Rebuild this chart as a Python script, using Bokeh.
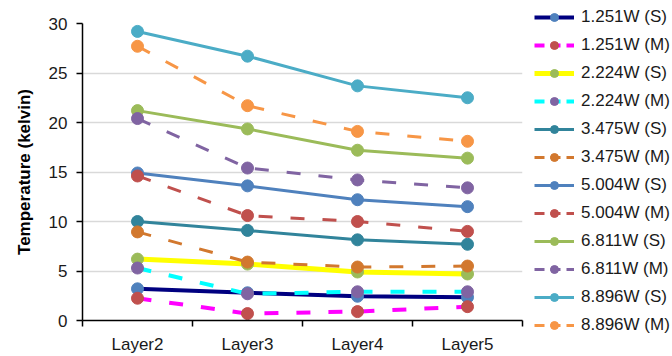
from bokeh.plotting import figure
from bokeh.layouts import row
from bokeh.models import Legend, LegendItem, FixedTicker, Range1d
from bokeh.embed import file_html
from bokeh.resources import INLINE

# Categories along the x axis
layers = ["Layer2", "Layer3", "Layer4", "Layer5"]

# Temperature rise (kelvin) per layer for each input power, (S) and (M) cases
t_1251_s = [3.2, 2.8, 2.45, 2.35]
t_1251_m = [2.25, 0.7, 0.9, 1.4]
t_2224_s = [6.2, 5.7, 4.9, 4.7]
t_2224_m = [5.3, 2.7, 2.9, 2.9]
t_3475_s = [10.0, 9.1, 8.15, 7.7]
t_3475_m = [8.95, 5.9, 5.4, 5.5]
t_5004_s = [14.9, 13.6, 12.2, 11.5]
t_5004_m = [14.6, 10.6, 10.0, 9.0]
t_6811_s = [21.2, 19.35, 17.2, 16.4]
t_6811_m = [20.4, 15.4, 14.2, 13.4]
t_8896_s = [29.2, 26.7, 23.7, 22.5]
t_8896_m = [27.7, 21.7, 19.1, 18.1]

y_ticks = [0, 5, 10, 15, 20, 25, 30]

FONT = "Liberation Sans"

# name, values, line colour, marker colour, dashed?, line width
series = [
    ("1.251W (S)", t_1251_s, "#000080", "#4F81BD", False, 4),
    ("1.251W (M)", t_1251_m, "#FF00FF", "#C0504D", True, 4),
    ("2.224W (S)", t_2224_s, "#FFFF00", "#9BBB59", False, 5),
    ("2.224W (M)", t_2224_m, "#00FFFF", "#8064A2", True, 4),
    ("3.475W (S)", t_3475_s, "#31849B", "#31849B", False, 3),
    ("3.475W (M)", t_3475_m, "#D2782E", "#D2782E", True, 3),
    ("5.004W (S)", t_5004_s, "#4F81BD", "#4F81BD", False, 3),
    ("5.004W (M)", t_5004_m, "#C0504D", "#C0504D", True, 3),
    ("6.811W (S)", t_6811_s, "#9BBB59", "#9BBB59", False, 3),
    ("6.811W (M)", t_6811_m, "#8064A2", "#8064A2", True, 3),
    ("8.896W (S)", t_8896_s, "#4BACC6", "#4BACC6", False, 3),
    ("8.896W (M)", t_8896_m, "#F79646", "#F79646", True, 3),
]

DASH = "14 18"

# layer i sits in the middle of the unit slot [i, i+1]
xs = [i + 0.5 for i in range(len(layers))]

p = figure(width=527, height=356, output_backend="svg", toolbar_location=None,
           x_range=Range1d(0, len(layers)), y_range=Range1d(0, 30),
           title_location=None, frame_align=False,
           min_border_left=82, min_border_right=5,
           min_border_top=23, min_border_bottom=34)
p.outline_line_color = None
p.background_fill_color = "white"
p.border_fill_color = "white"

p.xgrid.grid_line_color = None
p.ygrid.grid_line_color = "#D9D9D9"
p.ygrid.grid_line_width = 1.5

# x axis: labels at slot centres, tick marks at slot boundaries
p.xaxis.ticker = FixedTicker(ticks=xs, minor_ticks=list(range(len(layers) + 1)))
p.xaxis.major_label_overrides = {x: name for x, name in zip(xs, layers)}
p.xaxis.major_tick_line_color = None
p.xaxis.minor_tick_line_color = "black"
p.xaxis.minor_tick_line_width = 1.5
p.xaxis.minor_tick_out = 6
p.xaxis.minor_tick_in = 0
p.xaxis.major_label_standoff = 8

p.yaxis.ticker = FixedTicker(ticks=y_ticks)
p.yaxis.minor_tick_line_color = None
p.yaxis.major_tick_line_width = 1.5
p.yaxis.major_tick_out = 6
p.yaxis.major_tick_in = 0
p.yaxis.major_label_standoff = 9
p.yaxis.axis_label = "Temperature (kelvin)"
p.yaxis.axis_label_text_font_style = "bold"
p.yaxis.axis_label_text_font_size = "17px"
p.yaxis.axis_label_text_font = FONT
p.yaxis.axis_label_text_color = "black"
p.yaxis.axis_label_standoff = 12

for ax in (p.xaxis, p.yaxis):
    ax.axis_line_color = "black"
    ax.axis_line_width = 1.5
    ax.major_label_text_font = FONT
    ax.major_label_text_font_size = "17px"
    ax.major_label_text_color = "#1a1a1a"

for name, vals, lc, mc, dashed, lw in series:
    p.line(xs, vals, line_color=lc, line_width=lw,
           line_dash=DASH if dashed else "solid")
    p.scatter(xs, vals, size=12, fill_color=mc, line_color=mc)

# Legend panel to the right of the plot area. Its key renderers carry the
# same series styles; the panel's own ranges keep their data out of view.
lg = figure(width=145, height=356, output_backend="svg", toolbar_location=None,
            x_range=Range1d(-2, -1), y_range=Range1d(-2, -1),
            title_location=None, x_axis_location=None, y_axis_location=None,
            frame_align=False,
            min_border_left=0, min_border_right=0,
            min_border_top=0, min_border_bottom=0)
lg.grid.visible = False
lg.outline_line_color = None
lg.background_fill_color = "white"
lg.border_fill_color = "white"

items = []
for name, vals, lc, mc, dashed, lw in series:
    k_line = lg.line(xs, vals, line_color=lc, line_width=lw,
                     line_dash="10 6" if dashed else "solid")
    k_pts = lg.scatter(xs, vals, size=10, fill_color=mc, line_color=mc)
    items.append(LegendItem(label=name, renderers=[k_line, k_pts]))

legend = Legend(items=items, location="top_left",
                glyph_width=40, glyph_height=20, label_height=20,
                label_standoff=7, spacing=8, padding=0, margin=7,
                label_text_font=FONT, label_text_font_size="17px",
                label_text_color="#1a1a1a",
                border_line_color=None, background_fill_alpha=0)
lg.add_layout(legend, "center")

layout = row(p, lg)
open("out.html", "w").write(file_html(layout, INLINE))
